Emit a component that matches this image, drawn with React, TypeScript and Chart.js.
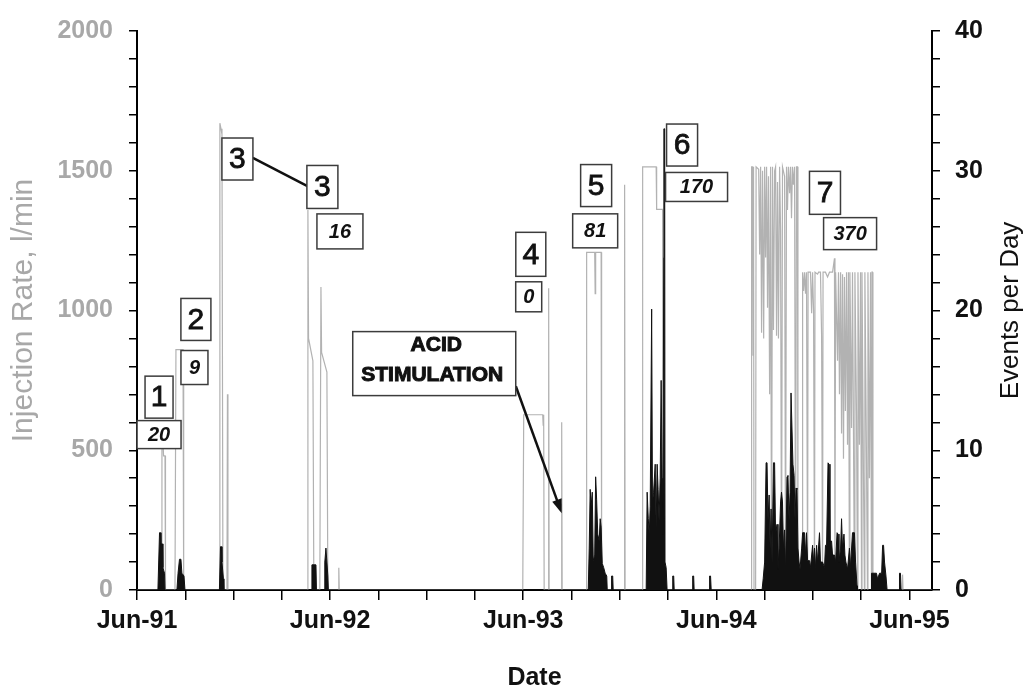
import { useEffect, useRef } from 'react';
import { Chart, registerables } from 'chart.js';

Chart.register(...registerables);

// Time axis unit: months since 1 June 1991.
const injectionMonths = [
  0, 1.52, 1.55, 1.61, 1.65, 1.74, 1.77,
  2.36, 2.42, 2.86, 2.88, 2.92,
  5.12, 5.15, 5.22, 5.28, 5.34, 5.59, 5.62, 5.65,
  10.59, 10.62, 10.66, 10.93, 10.99, 11.36, 11.43, 11.47, 11.8, 11.86, 12.51, 12.54, 12.57,
  23.97, 24.03, 25.21, 25.24, 25.27, 25.3, 25.55, 25.58, 25.61, 26.36, 26.39, 26.42,
  27.91, 27.94, 28.44, 28.47, 28.5, 28.84, 28.87, 30.27, 30.3, 30.33,
  31.39, 31.42, 32.26, 32.29, 32.66, 32.69,
  38.16, 38.19, 38.25, 38.28, 38.31, 38.34, 38.44, 38.47, 38.63, 38.69, 38.75, 38.81, 38.87, 38.94,
  39.0, 39.06, 39.12, 39.18, 39.24, 39.31, 39.37, 39.43, 39.49, 39.55, 39.62, 39.68, 39.74, 39.8,
  39.86, 39.93, 39.99, 40.05, 40.11, 40.24, 40.3, 40.36, 40.42, 40.48, 40.55, 40.61, 40.67, 40.73,
  40.79, 40.86, 40.92, 40.98, 41.04, 41.07,
  41.33, 41.36, 41.42, 41.48, 41.54, 41.6, 41.67, 41.7, 41.85, 41.92, 41.98, 42.04, 42.1, 42.13,
  42.29, 42.35, 42.47, 42.54, 42.6, 42.63, 42.78, 42.91, 43.03, 43.22, 43.34, 43.37, 43.41, 43.53,
  43.59, 43.65, 43.72, 43.78, 43.84, 43.9, 43.96, 44.02, 44.09, 44.15, 44.21, 44.27, 44.3, 44.4,
  44.46, 44.58, 44.61, 44.71, 44.77, 44.8, 44.89, 44.96, 45.02, 45.05, 45.14, 45.2, 45.23, 45.33,
  45.39, 45.42, 45.51, 45.58, 45.64, 45.67, 45.7, 45.73,
  47.54, 47.57, 47.6, 49.4,
];

// Injection rate, l/min
const injectionRates = [
  0, 0, 540, 540, 480, 480, 0,
  0, 860, 860, 700, 0,
  0, 1670, 1650, 1630, 0, 0, 700, 0,
  0, 1360, 900, 820, 0, 0, 1084, 850, 780, 0, 0, 80, 0,
  0, 627, 627, 590, 627, 0, 0, 1080, 0, 0, 600, 0,
  0, 1208, 1208, 1060, 1208, 1208, 0, 0, 1450, 0,
  0, 1514, 1514, 1362, 1362, 0,
  0, 1514, 1514, 840, 1514, 0, 0, 1514, 1505, 1200, 1514, 920, 1500, 900,
  1514, 1190, 1514, 1010, 1480, 700, 1514, 0, 1514, 930, 1500, 1514, 910, 1460,
  900, 1514, 1290, 0, 1514, 1480, 0, 1514, 1360, 1514, 1420, 1514, 1330, 1514,
  1450, 1514, 0, 1514, 1514, 0,
  0, 1137, 1070, 1137, 1060, 1137, 0, 1137, 1137, 990, 1137, 1000, 0, 1137,
  1130, 1137, 1137, 910, 0, 1137, 1137, 1120, 1137, 1137, 1187, 0, 1137, 820,
  1137, 700, 1137, 560, 1130, 470, 1120, 640, 1137, 520, 1137, 0, 1137, 580,
  1137, 0, 1137, 620, 0, 1137, 520, 1137, 0, 1137, 420, 0, 1137, 460,
  0, 1137, 400, 1137, 0, 1137, 1137, 0,
  0, 55, 0, 0,
];

const eventMonths = [
  0, 1.3, 1.4, 1.46, 1.49, 1.58, 1.61, 1.71, 1.74,
  2.48, 2.55, 2.64, 2.73, 2.79, 2.92, 2.98,
  5.12, 5.19, 5.25, 5.28, 5.37, 5.4,
  10.84, 10.87, 11.12, 11.15, 11.64, 11.67, 11.74, 11.8, 11.86, 11.89,
  28.04, 28.1, 28.16, 28.22, 28.29, 28.35, 28.44, 28.5, 28.56, 28.63, 28.72, 28.78, 28.84, 28.91,
  29.0, 29.09, 29.19, 29.22, 29.46, 29.49, 29.56, 29.59,
  31.64, 31.7, 31.77, 31.83, 31.89, 31.98, 32.03, 32.1, 32.2, 32.26, 32.32, 32.38, 32.44, 32.51,
  32.57, 32.63, 32.68, 32.73, 32.74, 32.79, 32.81, 32.88, 32.94,
  33.25, 33.29, 33.35, 33.38, 34.5, 34.53, 34.59, 34.62, 35.55, 35.58, 35.64, 35.68,
  38.84, 38.91, 39.0, 39.09, 39.15, 39.21, 39.28, 39.34, 39.4, 39.46, 39.55, 39.62, 39.68, 39.77,
  39.83, 39.9, 39.99, 40.05, 40.11, 40.17, 40.24, 40.3, 40.39, 40.45, 40.52, 40.58, 40.64, 40.7,
  40.76, 40.83, 40.89, 40.95, 41.01, 41.07, 41.14, 41.2, 41.3, 41.36, 41.48, 41.54, 41.6, 41.67,
  41.79, 41.85, 41.98, 42.04, 42.1, 42.16, 42.23, 42.29, 42.41, 42.47, 42.6, 42.72, 42.78, 42.85,
  42.94, 43.0, 43.06, 43.16, 43.22, 43.34, 43.41, 43.5, 43.56, 43.62, 43.72, 43.78, 43.84, 43.93,
  43.99, 44.05, 44.15, 44.27, 44.33, 44.46, 44.58, 44.65, 44.74, 44.77,
  45.61, 45.64, 45.95, 46.02, 46.14, 46.27, 46.33, 46.39, 46.45, 46.54, 46.61,
  47.35, 47.38, 47.44, 47.48, 49.4,
];

const eventsPerDay = [
  0, 0, 4.1, 4.1, 3.3, 3.3, 1.6, 1.2, 0,
  0, 1.2, 2.2, 2.2, 1.2, 1, 0,
  0, 3.1, 3.1, 2, 0.8, 0,
  0, 1.8, 1.8, 0, 0, 2, 3, 2, 1, 0,
  0, 3, 7.2, 6, 7, 2.1, 2.5, 8.1, 6.5, 4, 3.5, 5.1, 4.5, 1.9,
  1.6, 1.2, 1, 0, 0, 1, 1, 0,
  0, 7, 5.1, 4, 6, 20.1, 6.3, 7, 9, 4.5, 9, 7.2, 5, 8,
  15, 8, 4, 23.8, 33, 33, 2, 1.6, 0,
  0, 1, 1, 0, 0, 1, 1, 0, 0, 1, 1, 0,
  0, 0.8, 2, 9.1, 9.1, 5, 6.8, 3, 5.8, 2, 9.1, 9.1, 4, 4.7,
  1.5, 3, 6.3, 7, 6.3, 3, 4.3, 1.2, 8.1, 8.2, 5, 7, 14.1, 14.1,
  9, 8.2, 5, 7.3, 7.2, 3, 2, 1.5, 3, 4.1, 4.1, 2.5, 4.1, 2.1,
  2.1, 1.6, 3.2, 2, 3, 1.6, 3.2, 2, 4.1, 2, 2, 1.6, 3.2, 3.2,
  9.1, 9, 3.5, 3.5, 2.5, 2.5, 2, 4.1, 4, 2, 3, 5.1, 3, 4,
  2.5, 2, 1.5, 3, 1.6, 4.1, 4.1, 2, 0.3, 0,
  0, 1.2, 1.2, 0.8, 1.2, 1.2, 3.2, 3.2, 2, 1, 0,
  0, 1.2, 1.2, 0, 0,
];

const yearTickLabels = ['Jun-91', 'Jun-92', 'Jun-93', 'Jun-94', 'Jun-95'];
const rightAxisTitle = 'Events per Day';

// Well-test stage labels and event totals, anchored at (month, l/min)
type Note = { text: string[]; m: number; v: number; w: number; h: number; kind: 'stage' | 'count' | 'note' };
const notes: Note[] = [
  { text: ['1'], m: 1.37, v: 690, w: 28, h: 42, kind: 'stage' },
  { text: ['20'], m: 1.37, v: 556, w: 44, h: 28, kind: 'count' },
  { text: ['2'], m: 3.66, v: 968, w: 30, h: 42, kind: 'stage' },
  { text: ['9'], m: 3.57, v: 796, w: 27, h: 34, kind: 'count' },
  { text: ['3'], m: 6.24, v: 1542, w: 31, h: 42, kind: 'stage' },
  { text: ['3'], m: 11.52, v: 1442, w: 31, h: 43, kind: 'stage' },
  { text: ['16'], m: 12.61, v: 1283, w: 46, h: 35, kind: 'count' },
  { text: ['4'], m: 24.47, v: 1201, w: 30, h: 44, kind: 'stage' },
  { text: ['0'], m: 24.34, v: 1049, w: 26, h: 30, kind: 'count' },
  { text: ['ACID', 'STIMULATION'], m: 18.47, v: 810, w: 163, h: 64, kind: 'note' },
  { text: ['5'], m: 28.53, v: 1447, w: 31, h: 42, kind: 'stage' },
  { text: ['81'], m: 28.47, v: 1285, w: 45, h: 34, kind: 'count' },
  { text: ['6'], m: 33.87, v: 1592, w: 31, h: 42, kind: 'stage' },
  { text: ['170'], m: 34.77, v: 1442, w: 62, h: 29, kind: 'count' },
  { text: ['7'], m: 42.75, v: 1421, w: 31, h: 43, kind: 'stage' },
  { text: ['370'], m: 44.31, v: 1275, w: 53, h: 32, kind: 'count' },
];

// Leader between the two stage-3 boxes and the acid-stimulation arrow
const stageLink = { from: [7.2, 1546], to: [10.62, 1444] };
const acidArrow = { from: [23.54, 729], to: [26.39, 275] };

const FONT = '"Liberation Sans", Arial, Helvetica, sans-serif';

const notesPlugin = {
  id: 'notes',
  afterDatasetsDraw(chart: any) {
    const { ctx } = chart;
    const xs = chart.scales.x;
    const ys = chart.scales.y;
    const px = (m: number) => xs.getPixelForValue(m);
    const py = (v: number) => ys.getPixelForValue(v);
    ctx.save();
    ctx.strokeStyle = '#111';
    ctx.lineWidth = 2.5;
    ctx.beginPath();
    ctx.moveTo(px(stageLink.from[0]), py(stageLink.from[1]));
    ctx.lineTo(px(stageLink.to[0]), py(stageLink.to[1]));
    ctx.stroke();

    const ax0 = px(acidArrow.from[0]);
    const ay0 = py(acidArrow.from[1]);
    const ax1 = px(acidArrow.to[0]);
    const ay1 = py(acidArrow.to[1]);
    const ang = Math.atan2(ay1 - ay0, ax1 - ax0);
    const head = 14;
    ctx.beginPath();
    ctx.moveTo(ax0, ay0);
    ctx.lineTo(ax1 - Math.cos(ang) * head * 0.8, ay1 - Math.sin(ang) * head * 0.8);
    ctx.stroke();
    ctx.fillStyle = '#111';
    ctx.beginPath();
    ctx.moveTo(ax1, ay1);
    ctx.lineTo(ax1 - head * Math.cos(ang) + 5 * Math.sin(ang), ay1 - head * Math.sin(ang) - 5 * Math.cos(ang));
    ctx.lineTo(ax1 - head * Math.cos(ang) - 5 * Math.sin(ang), ay1 - head * Math.sin(ang) + 5 * Math.cos(ang));
    ctx.closePath();
    ctx.fill();

    for (const n of notes) {
      const cx = px(n.m);
      const cy = py(n.v);
      ctx.fillStyle = '#fff';
      ctx.fillRect(cx - n.w / 2, cy - n.h / 2, n.w, n.h);
      ctx.strokeStyle = '#3c3c3c';
      ctx.lineWidth = 1.5;
      ctx.strokeRect(cx - n.w / 2, cy - n.h / 2, n.w, n.h);
      ctx.fillStyle = '#111';
      ctx.textAlign = 'center';
      ctx.textBaseline = 'middle';
      if (n.kind === 'stage') {
        ctx.font = `30px ${FONT}`;
        ctx.strokeStyle = '#111';
        ctx.lineWidth = 0.8;
        ctx.fillText(n.text[0], cx, cy + 1);
        ctx.strokeText(n.text[0], cx, cy + 1);
      } else if (n.kind === 'count') {
        ctx.font = `italic bold 20px ${FONT}`;
        ctx.fillText(n.text[0], cx, cy + 1);
      } else {
        ctx.font = `bold 21px ${FONT}`;
        ctx.strokeStyle = '#111';
        ctx.lineWidth = 1;
        ctx.fillText(n.text[0], cx + 2, cy - 18);
        ctx.strokeText(n.text[0], cx + 2, cy - 18);
        ctx.fillText(n.text[1], cx - 2, cy + 12);
        ctx.strokeText(n.text[1], cx - 2, cy + 12);
      }
    }
    ctx.restore();
  },
  afterDraw(chart: any) {
    // right-hand axis title, reading bottom to top like the left one
    const { ctx, chartArea } = chart;
    ctx.save();
    ctx.translate(chart.width - 18, (chartArea.top + chartArea.bottom) / 2);
    ctx.rotate(-Math.PI / 2);
    ctx.font = `26px ${FONT}`;
    ctx.fillStyle = '#111';
    ctx.textAlign = 'center';
    ctx.textBaseline = 'middle';
    ctx.fillText(rightAxisTitle, 0, 0);
    ctx.restore();
  },
};

export default function App() {
  const canvasRef = useRef<HTMLCanvasElement | null>(null);

  useEffect(() => {
    const canvas = canvasRef.current;
    if (!canvas) return;
    const chart = new Chart(canvas, {
      type: 'line',
      data: {
        datasets: [
          {
            label: 'Events per Day',
            data: eventMonths.map((m, i) => ({ x: m, y: eventsPerDay[i] })),
            yAxisID: 'y1',
            borderColor: '#111',
            backgroundColor: '#111',
            borderWidth: 1,
            pointRadius: 0,
            fill: 'origin',
            order: 0,
          },
          {
            label: 'Injection Rate',
            data: injectionMonths.map((m, i) => ({ x: m, y: injectionRates[i] })),
            yAxisID: 'y',
            borderColor: '#b2b2b2',
            borderWidth: 1.2,
            pointRadius: 0,
            fill: false,
            order: 1,
          },
        ],
      },
      options: {
        animation: false,
        responsive: false,
        devicePixelRatio: 1,
        layout: { padding: { top: 22, left: 0, right: 0, bottom: 0 } },
        plugins: { legend: { display: false }, tooltip: { enabled: false } },
        scales: {
          x: {
            type: 'linear',
            min: 0,
            max: 49.4,
            afterFit: (s: any) => { s.height = 101; },
            border: { display: true, color: '#000', width: 2 },
            grid: { drawOnChartArea: false, drawTicks: true, tickLength: 10, color: '#000', lineWidth: 1.5 },
            ticks: {
              stepSize: 3,
              autoSkip: false,
              maxRotation: 0,
              includeBounds: false,
              padding: 6,
              color: '#111',
              font: { family: FONT, size: 25, weight: 'bold' },
              callback: (v: any) => (Number(v) % 12 === 0 ? yearTickLabels[Number(v) / 12] : ''),
            },
            title: {
              display: true,
              text: 'Date',
              color: '#111',
              font: { family: FONT, size: 25, weight: 'bold' },
              padding: { top: 0, bottom: -2 },
            },
          },
          y: {
            position: 'left',
            min: 0,
            max: 2000,
            afterFit: (s: any) => { s.width = 137; },
            border: { display: true, color: '#000', width: 2 },
            grid: { drawOnChartArea: false, drawTicks: true, tickLength: 8, color: '#000', lineWidth: 1.5 },
            ticks: {
              stepSize: 100,
              autoSkip: false,
              padding: 16,
              color: '#a8a8a8',
              font: { family: FONT, size: 25, weight: 'bold' },
              callback: (v: any) => (Number(v) % 500 === 0 ? String(v) : ''),
            },
            title: {
              display: true,
              text: 'Injection Rate, l/min',
              color: '#a8a8a8',
              font: { family: FONT, size: 30 },
              padding: { top: 6, bottom: 0 },
            },
          },
          y1: {
            position: 'right',
            min: 0,
            max: 40,
            afterFit: (s: any) => { s.width = 97; },
            border: { display: true, color: '#000', width: 2 },
            grid: { drawOnChartArea: false, drawTicks: true, tickLength: 8, color: '#000', lineWidth: 1.5 },
            ticks: {
              stepSize: 2,
              autoSkip: false,
              padding: 15,
              color: '#111',
              font: { family: FONT, size: 25, weight: 'bold' },
              callback: (v: any) => (Number(v) % 10 === 0 ? String(v) : ''),
            },
            title: { display: false },
          },
        },
      } as any,
      plugins: [notesPlugin],
    });
    return () => chart.destroy();
  }, []);

  return (
    <div style={{ position: 'fixed', left: 0, top: 0, width: 1029, height: 691, background: '#fff' }}>
      <canvas ref={canvasRef} width={1029} height={691} style={{ display: 'block' }} />
    </div>
  );
}
